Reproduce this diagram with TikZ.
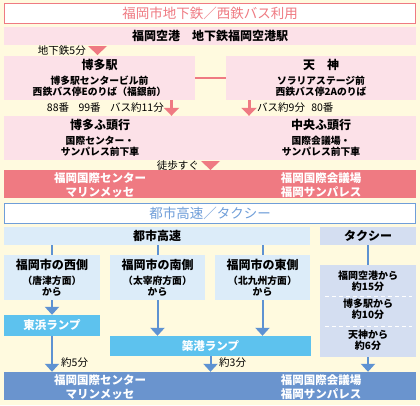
\documentclass[tikz,border=0pt]{standalone}
\usepackage{fontspec}
\setmainfont{Noto Sans CJK JP}
\usepackage{tikz}
\usetikzlibrary{arrows.meta,positioning}
\usepackage{xcolor}

\definecolor{fondo}{HTML}{FFFADF}
\definecolor{rosa}{HTML}{EF7A82}
\definecolor{rosaclaro}{HTML}{FCE1E8}
\definecolor{azul}{HTML}{6F9ED9}
\definecolor{azulclaro}{HTML}{DCECF9}
\definecolor{lila}{HTML}{D4DEF1}
\definecolor{linea}{HTML}{5E92D2}
\definecolor{celeste}{HTML}{5DC2EE}
\definecolor{azulfuerte}{HTML}{6A94CE}

\newcommand{\cab}[1]{{\fontsize{12}{14}\selectfont #1}}

\begin{document}
\begin{tikzpicture}[x=1pt, y=-1pt,
  every node/.style={inner sep=0pt, align=center},
  titulo/.style={draw=#1, line width=1pt, fill=white, minimum width=411pt,
    minimum height=20pt, text=#1, font=\fontsize{13.5}{15}\selectfont},
  banda/.style={fill=#1, minimum width=412pt},
  caja/.style={fill=#1},
  txt/.style={font=\bfseries\fontsize{9.8}{11}\selectfont},
  blanco/.style={text=white, font=\bfseries\fontsize{11.5}{14}\selectfont},
  nota/.style={font=\fontsize{10.5}{12}\selectfont},
  flecharosa/.style={draw=rosa, line width=3pt, -{Triangle[width=15pt,length=8pt]}},
  flechaazul/.style={draw=linea, line width=2pt, -{Triangle[width=14pt,length=8pt]}},
  lineaazul/.style={draw=linea, line width=2pt}
]

% fondo
\fill[fondo] (0,0) rectangle (420,405);
\useasboundingbox (0,0) rectangle (420,405);

% -------- Metro / autobus (arriba) --------
\node[titulo=rosa] (tit1) at (210,13.5) {福岡市地下鉄／西鉄バス利用};
\node[banda=rosaclaro, minimum height=18pt, font=\bfseries\fontsize{12}{14}\selectfont]
  (aero) at (210,36) {福岡空港　地下鉄福岡空港駅};

\node[nota, anchor=east] (metro) at (86,51) {地下鉄5分};
\fill[rosa] (88,46) -- (107,46) -- (97.5,55) -- cycle;

\node[caja=rosaclaro, minimum width=191pt, minimum height=44pt, txt] (hakata) at (99.5,78)
  {\cab{博多駅}\\[4pt]博多駅センタービル前\\西鉄バス停Eのりば（福銀前）};
\node[caja=rosaclaro, minimum width=190pt, minimum height=44pt, txt] (tenjin) at (321,78)
  {\cab{天　神}\\[4pt]ソラリアステージ前\\西鉄バス停2Aのりば};
\draw[rosa, line width=2pt] (hakata.east) -- (tenjin.west);

\node[banda=rosaclaro, minimum height=44pt] (futo) at (210,138) {};
\node[txt] (futoO) at (100,138) {\cab{博多ふ頭行}\\[4pt]国際センター・\\サンパレス前下車};
\node[txt] (futoE) at (321,138) {\cab{中央ふ頭行}\\[4pt]国際会議場・\\サンパレス前下車};

% Buses
\draw[flecharosa] ([xshift=72pt]hakata.south) -- ([xshift=72pt]hakata.south |- futo.north);
\draw[flecharosa] ([xshift=-72pt]tenjin.south) -- ([xshift=-72pt]tenjin.south |- futo.north);
\node[nota, anchor=east] (bus1) at (164,108) {88番\hspace{0.9em}99番\hspace{0.9em}バス約11分};
\node[nota, anchor=west] (bus2) at (257,108) {バス約9分\hspace{0.6em}80番};

\node[nota, anchor=east] (paseo) at (199,166) {徒歩すぐ};
\fill[rosa] (201,161) -- (220,161) -- (210.5,170) -- cycle;

\node[banda=rosa, minimum height=28pt] (sede1) at (210,184) {};
\node[blanco] (sedeO1) at (100,185) {福岡国際センター\\マリンメッセ};
\node[blanco] (sedeE1) at (321,185) {福岡国際会議場\\福岡サンパレス};

% -------- Autopista / taxi (abajo) --------
\node[titulo=azul] (tit2) at (210,213) {都市高速／タクシー};
\node[caja=azulclaro, minimum width=306pt, minimum height=18pt,
  font=\bfseries\fontsize{12}{14}\selectfont] (auto) at (157,236) {都市高速};
\node[caja=lila, minimum width=96pt, minimum height=18pt,
  font=\bfseries\fontsize{12}{14}\selectfont] (taxi) at (368,236) {タクシー};

\node[caja=azulclaro, minimum width=96pt, minimum height=45pt, txt] (oeste) at (52,277.5)
  {\cab{福岡市の西側}\\[4pt]（唐津方面）\\から};
\node[caja=azulclaro, minimum width=95pt, minimum height=45pt, txt] (sur) at (157.5,277.5)
  {\cab{福岡市の南側}\\[4pt]（太宰府方面）\\から};
\node[caja=azulclaro, minimum width=95pt, minimum height=45pt, txt] (este) at (262.5,277.5)
  {\cab{福岡市の東側}\\[4pt]（北九州方面）\\から};

\draw[lineaazul] (auto.south -| oeste.north) -- (oeste.north);
\draw[lineaazul] (auto.south -| sur.north) -- (sur.north);
\draw[lineaazul] (auto.south -| este.north) -- (este.north);

% Taxi
\node[caja=lila, minimum width=96pt, minimum height=92pt,
  font=\bfseries\fontsize{10}{11}\selectfont] (tcaja) at (368,311)
  {福岡空港から\\約15分\\[6pt]博多駅から\\約10分\\[9pt]天神から\\約6分};
\draw[lineaazul] (taxi) -- (tcaja);
\draw[white, line width=1pt, dash pattern=on 4pt off 3pt] (325,296) -- (412,296);
\draw[white, line width=1pt, dash pattern=on 4pt off 3pt] (325,326) -- (412,326);

% Rampas
\node[caja=celeste, minimum width=96pt, minimum height=21pt, blanco] (higashi) at (52,325.5) {東浜ランプ};
\node[caja=celeste, minimum width=201pt, minimum height=20pt, blanco] (chikko) at (210.5,346) {築港ランプ};
\draw[flechaazul] (oeste) -- (higashi);
\draw[flechaazul] (sur.south) -- (sur.south |- chikko.north);
\draw[flechaazul] (este.south) -- (este.south |- chikko.north);

\node[banda=azulfuerte, minimum height=28pt] (sede2) at (210,386) {};
\node[blanco] (sedeO2) at (100,387) {福岡国際センター\\マリンメッセ};
\node[blanco] (sedeE2) at (321,387) {福岡国際会議場\\福岡サンパレス};

\draw[flechaazul] (higashi) -- (higashi |- sede2.north);
\draw[flechaazul] (chikko.south) -- (chikko.south |- sede2.north);
\draw[flechaazul] (tcaja) -- (tcaja |- sede2.north);
\node[nota, anchor=west] (t5) at (61,363) {約5分};
\node[nota, anchor=west] (t3) at (219,363) {約3分};

\end{tikzpicture}
\end{document}
